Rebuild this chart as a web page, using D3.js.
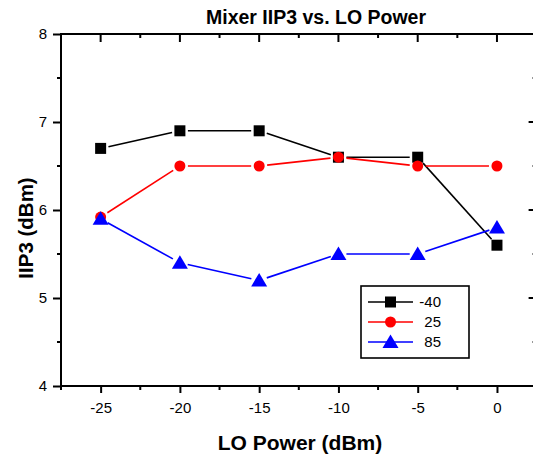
<!DOCTYPE html>
<html><head><meta charset="utf-8">
<script src="https://cdn.jsdelivr.net/npm/d3@7"></script>
<style>body{margin:0;background:#fff}svg{display:block}text{font-family:"Liberation Sans",Arial,sans-serif}</style>
</head><body><svg id="c" width="533" height="456"></svg>
<script>
const loPower = [-25, -20, -15, -10, -5, 0];
const seriesNames = ["-40", "25", "85"];
const iip3_m40 = [6.7, 6.9, 6.9, 6.6, 6.6, 5.6];
const iip3_25 = [5.92, 6.5, 6.5, 6.6, 6.5, 6.5];
const iip3_85 = [5.9, 5.4, 5.2, 5.5, 5.5, 5.8];
const xTicks = [-25, -20, -15, -10, -5, 0];
const yTicks = [4, 5, 6, 7, 8];

const svg = d3.select("#c");
const L = 61, T = 34, R = 536.6, B = 386;
const x = d3.scaleLinear().domain([-27.5, 2.5]).range([L, R]);
const y = d3.scaleLinear().domain([4, 8]).range([B, T]);

const series = [
  {name: seriesNames[0], vals: iip3_m40, color: "#000", shape: "square"},
  {name: seriesNames[1], vals: iip3_25, color: "#f00", shape: "circle"},
  {name: seriesNames[2], vals: iip3_85, color: "#00f", shape: "triangle"}
];

function marker(g, shape, cx, cy, color) {
  if (shape === "square") g.append("rect").attr("x", cx-5.5).attr("y", cy-5.5).attr("width", 11).attr("height", 11).attr("fill", color);
  else if (shape === "circle") g.append("circle").attr("cx", cx).attr("cy", cy).attr("r", 5.5).attr("fill", color);
  else g.append("path").attr("d", `M${cx},${cy-7.5}L${cx+8},${cy+6}L${cx-8},${cy+6}Z`).attr("fill", color);
}

const fmt = d => String(d);
const minorX = d3.range(-27.5, 2.6, 2.5);
const minorY = d3.range(4, 8.01, 0.5);
// bottom
const bottom = d3.axisBottom(x).tickValues(xTicks).tickSize(7).tickFormat(fmt);
const gb = svg.append("g").attr("transform", `translate(0,${B})`).call(bottom);
gb.select(".domain").remove();
gb.selectAll(".tick line").attr("stroke-width", 2);
gb.selectAll(".tick text").attr("font-size", 15).attr("font-family", "Liberation Sans, Arial, sans-serif").attr("dy", null).attr("y", 27).attr("fill", "#000");
gb.selectAll(".minor").data(minorX.filter(v => !xTicks.includes(v))).enter().append("line")
  .attr("x1", d => x(d)).attr("x2", d => x(d)).attr("y1", 0).attr("y2", 4).attr("stroke", "#000").attr("stroke-width", 2);
// left
const left = d3.axisLeft(y).tickValues(yTicks).tickSize(8).tickFormat(fmt);
const gl = svg.append("g").attr("transform", `translate(${L},0)`).call(left);
gl.select(".domain").remove();
gl.selectAll(".tick line").attr("stroke-width", 2);
gl.selectAll(".tick text").attr("font-size", 15).attr("font-family", "Liberation Sans, Arial, sans-serif").attr("x", -14).attr("fill", "#000");
gl.selectAll(".minor").data(minorY.filter(v => !yTicks.includes(v))).enter().append("line")
  .attr("x1", -4).attr("x2", 0).attr("y1", d => y(d)).attr("y2", d => y(d)).attr("stroke", "#000").attr("stroke-width", 2);
// top (ticks inward)
const gt = svg.append("g");
gt.selectAll("line.maj").data(xTicks).enter().append("line")
  .attr("x1", d => x(d)).attr("x2", d => x(d)).attr("y1", T).attr("y2", T+8).attr("stroke", "#000").attr("stroke-width", 2);
gt.selectAll("line.min").data(minorX.filter(v => !xTicks.includes(v))).enter().append("line")
  .attr("x1", d => x(d)).attr("x2", d => x(d)).attr("y1", T).attr("y2", T+4).attr("stroke", "#000").attr("stroke-width", 2);
// right (ticks inward)
const gr = svg.append("g");
gr.selectAll("line.maj").data(yTicks).enter().append("line")
  .attr("x1", R-8).attr("x2", R).attr("y1", d => y(d)).attr("y2", d => y(d)).attr("stroke", "#000").attr("stroke-width", 2);
gr.selectAll("line.min").data(minorY.filter(v => !yTicks.includes(v))).enter().append("line")
  .attr("x1", R-4).attr("x2", R).attr("y1", d => y(d)).attr("y2", d => y(d)).attr("stroke", "#000").attr("stroke-width", 2);
// frame
svg.append("rect").attr("x", L).attr("y", T).attr("width", R-L).attr("height", B-T)
  .attr("fill", "none").attr("stroke", "#000").attr("stroke-width", 2);

// series
const gap = 8;
series.forEach(s => {
  const g = svg.append("g");
  const pts = loPower.map((v, i) => [x(v), y(s.vals[i])]);
  for (let i = 0; i < pts.length - 1; i++) {
    const [x1, y1] = pts[i], [x2, y2] = pts[i+1];
    const dx = x2-x1, dy = y2-y1, len = Math.hypot(dx, dy);
    if (len <= 2*gap) continue;
    const ux = dx/len, uy = dy/len;
    g.append("line").attr("x1", x1+ux*gap).attr("y1", y1+uy*gap).attr("x2", x2-ux*gap).attr("y2", y2-uy*gap)
      .attr("stroke", s.color).attr("stroke-width", 1.6);
  }
  pts.forEach(p => marker(g, s.shape, p[0], p[1], s.color));
});

// legend
const lg = svg.append("g");
lg.append("rect").attr("x", 361).attr("y", 286).attr("width", 108).attr("height", 72)
  .attr("fill", "#fff").attr("stroke", "#000").attr("stroke-width", 1.6);
series.forEach((s, i) => {
  const cy = 302 + i*20;
  lg.append("line").attr("x1", 368).attr("x2", 413).attr("y1", cy).attr("y2", cy).attr("stroke", s.color).attr("stroke-width", 1.6);
  marker(lg, s.shape, 390.5, cy, s.color);
  lg.append("text").attr("x", 441).attr("y", cy).attr("dy", "0.36em").attr("text-anchor", "end")
    .attr("font-size", 15).text(s.name);
});

// titles
svg.append("text").attr("x", 316).attr("y", 24).attr("text-anchor", "middle").attr("font-size", 19.5).attr("font-weight", "bold").text("Mixer IIP3 vs. LO Power");
svg.append("text").attr("x", 300).attr("y", 450).attr("text-anchor", "middle").attr("font-size", 21).attr("font-weight", "bold").text("LO Power (dBm)");
svg.append("text").attr("transform", "translate(33,228) rotate(-90)").attr("text-anchor", "middle").attr("font-size", 20.5).attr("font-weight", "bold").text("IIP3 (dBm)");
</script></body></html>
